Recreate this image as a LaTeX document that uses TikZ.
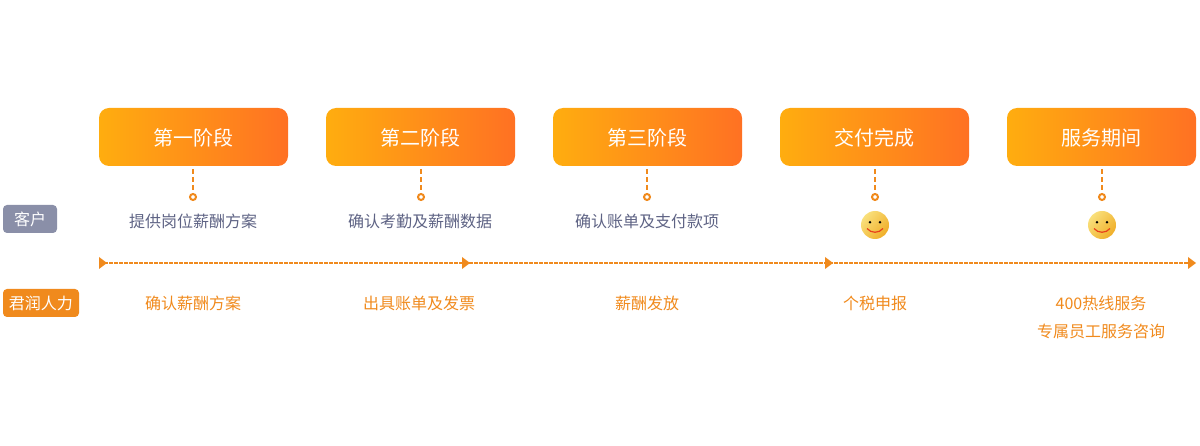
\documentclass[tikz,border=0pt]{standalone}
\usepackage{fontspec}
\setmainfont{Noto Sans CJK SC}
\definecolor{lineorange}{HTML}{F08A1D}
\definecolor{gradleft}{HTML}{FFAD0F}
\definecolor{gradright}{HTML}{FF7123}
\definecolor{clientgray}{HTML}{8A8FA8}
\definecolor{clienttext}{HTML}{5E6384}
\definecolor{facedark}{HTML}{F0AE28}
\definecolor{facelight}{HTML}{F9E07C}
\definecolor{smilered}{HTML}{E8401A}
\tikzset{
    stagebox/.style={rounded corners=10pt,left color=gradleft,right color=gradright,minimum width=189pt,minimum height=58pt,inner sep=0pt,outer sep=0pt,text=white,text height=20pt,text depth=2.8pt,font=\fontsize{20}{24}\selectfont},
    rolebox/.style={rounded corners=4pt,minimum height=28pt,inner sep=0pt,outer sep=0pt,text=white,font=\fontsize{16}{20}\selectfont},
    clienttxt/.style={text=clienttext,font=\fontsize{16}{20}\selectfont},
    teamtxt/.style={text=lineorange,font=\fontsize{16}{20}\selectfont},
    dotmark/.style={circle,draw=lineorange,line width=2pt,fill=white,minimum size=6pt,inner sep=0pt,outer sep=0pt},
    linkdash/.style={draw=lineorange,line width=2pt,dash pattern=on 5pt off 3pt,shorten <=3pt},
    flowdash/.style={draw=lineorange,line width=1.6pt,dash pattern=on 3.5pt off 1.5pt},
    smiley/.pic={
        \shade[bottom color=facedark,top color=facelight,shading angle=50] (0,0) circle(14);
        \fill[black] (-5,-2.7) circle(1.4) (5,-2.7) circle(1.4);
        \draw[smilered,line width=1.2pt] (-8,3.5) .. controls (-4,8.5) and (4,8.5) .. (8,3.5);
    }
}
\begin{document}
\begin{tikzpicture}[x=1pt,y=-1pt]
    \useasboundingbox (0,0) rectangle (1200,446);
    % stages
    \node[stagebox] (s1) at (193.5,137){第一阶段};
    \node[stagebox] (s2) at (420.5,137){第二阶段};
    \node[stagebox] (s3) at (647.5,137){第三阶段};
    \node[stagebox] (s4) at (874.5,137){交付完成};
    \node[stagebox] (s5) at (1101.5,137){服务期间};
    % dots under the stages
    \node[dotmark] (d1) at (193,197){};
    \node[dotmark] (d2) at (421,197){};
    \node[dotmark] (d3) at (647,197){};
    \node[dotmark] (d4) at (875,197){};
    \node[dotmark] (d5) at (1102,197){};
    \draw[linkdash] (s1.south -| d1)--(d1);
    \draw[linkdash] (s2.south -| d2)--(d2);
    \draw[linkdash] (s3.south -| d3)--(d3);
    \draw[linkdash] (s4.south -| d4)--(d4);
    \draw[linkdash] (s5.south -| d5)--(d5);
    % roles
    \node[rolebox,fill=clientgray,minimum width=54pt] (client) at (30,219){客户};
    \node[rolebox,fill=lineorange,minimum width=76pt] (team) at (41,303){君润人力};
    % client row
    \node[clienttxt] (c1) at (193,221){提供岗位薪酬方案};
    \node[clienttxt] (c2) at (420,221){确认考勤及薪酬数据};
    \node[clienttxt] (c3) at (647,221){确认账单及支付款项};
    \pic at (875,225) {smiley};
    \pic at (1102,225) {smiley};
    % time line
    \coordinate (t1) at (99,263);
    \coordinate (t2) at (462,263);
    \coordinate (t3) at (825,263);
    \coordinate (t4) at (1188,263);
    \draw[flowdash] (t1)--(t4);
    \fill[lineorange] (99,257)--(107,263)--(99,269)--cycle;
    \fill[lineorange] (462,257)--(470,263)--(462,269)--cycle;
    \fill[lineorange] (825,257)--(833,263)--(825,269)--cycle;
    \fill[lineorange] (1188,257)--(1196,263)--(1188,269)--cycle;
    % team row
    \node[teamtxt] (h1) at (193,303){确认薪酬方案};
    \node[teamtxt] (h2) at (419,303){出具账单及发票};
    \node[teamtxt] (h3) at (647,303){薪酬发放};
    \node[teamtxt] (h4) at (875,303){个税申报};
    \node[teamtxt] (h5) at (1101,303){400热线服务};
    \node[teamtxt] (h6) at (1101,331){专属员工服务咨询};
\end{tikzpicture}
\end{document}
